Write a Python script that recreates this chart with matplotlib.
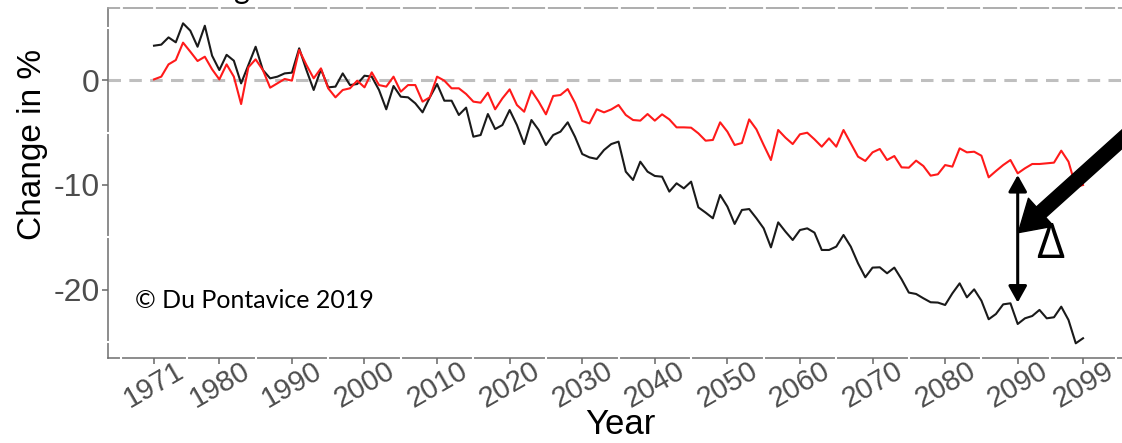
import numpy as np
import matplotlib.pyplot as plt

plt.rcParams['font.family'] = ['Liberation Sans', 'DejaVu Sans']
plt.rcParams['lines.scale_dashes'] = False

# yearly change in % relative to the reference period
years = np.arange(1971, 2100)

change_black = [
    3.27, 3.37, 4.06, 3.59, 5.40, 4.70, 3.17, 5.17, 2.32, 0.95,
    2.40, 1.84, -0.32, 1.43, 3.17, 0.95, 0.16, 0.32, 0.63, 0.70,
    3.02, 0.95, -0.95, 1.02, -0.70, -0.63, 0.63, -0.48, -0.38, 0.41,
    0.32, -0.95, -2.79, -0.57, -1.59, -1.65, -2.22, -3.08, -1.65, -0.38,
    -1.97, -1.97, -3.33, -2.63, -5.40, -5.24, -3.24, -4.67, -4.29, -2.86,
    -4.29, -6.10, -3.81, -4.76, -6.19, -5.24, -4.92, -4.03, -5.40, -7.05,
    -7.37, -7.52, -6.67, -6.10, -5.87, -8.73, -9.52, -7.78, -8.73, -9.14,
    -9.21, -10.63, -9.84, -10.32, -9.68, -12.13, -12.63, -13.17, -10.95, -12.06,
    -13.71, -12.38, -12.29, -13.17, -14.13, -15.94, -13.56, -14.44, -15.24, -14.29,
    -14.13, -14.54, -16.19, -16.19, -15.87, -14.76, -15.87, -17.46, -18.79, -17.87,
    -17.84, -18.41, -17.87, -18.98, -20.25, -20.38, -20.79, -21.17, -21.20, -21.43,
    -20.32, -19.37, -20.70, -19.94, -21.02, -22.79, -22.29, -21.37, -21.27, -23.24,
    -22.70, -22.48, -21.90, -22.70, -22.60, -21.59, -22.86, -25.08, -24.60,
]

change_red = [
    0.06, 0.32, 1.49, 1.90, 3.56, 2.70, 1.81, 2.22, 1.02, 0.06,
    1.49, 0.32, -2.29, 1.21, 1.97, 0.95, -0.73, -0.32, 0.10, -0.06,
    2.86, 1.43, 0.16, 1.11, -0.79, -1.65, -0.95, -0.79, -0.06, -0.70,
    0.73, -0.48, -0.63, 0.32, -1.11, -0.48, -0.48, -2.06, -1.65, 0.32,
    -0.06, -0.79, -0.79, -1.33, -2.06, -2.16, -1.21, -2.79, -1.75, -0.89,
    -2.38, -3.02, -1.02, -2.06, -3.27, -1.52, -1.43, -0.86, -2.16, -3.90,
    -4.13, -2.79, -3.08, -2.80, -2.38, -3.33, -3.81, -3.87, -3.24, -3.87,
    -3.27, -3.75, -4.51, -4.51, -4.54, -5.08, -5.78, -5.71, -4.03, -4.92,
    -6.19, -6.00, -3.75, -4.70, -6.19, -7.62, -4.76, -5.49, -6.10, -5.17,
    -5.02, -5.65, -6.35, -5.56, -6.35, -4.76, -6.03, -7.30, -7.71, -6.89,
    -6.57, -7.62, -7.24, -8.32, -8.35, -7.68, -8.19, -9.11, -8.98, -8.10,
    -8.25, -6.51, -6.89, -6.83, -7.21, -9.27, -8.67, -8.10, -7.62, -8.89,
    -8.41, -8.00, -8.00, -7.94, -7.87, -6.73, -7.78, -10.16, -10.00,
]

x_breaks = [1971, 1980, 1990, 2000, 2010, 2020, 2030, 2040, 2050,
            2060, 2070, 2080, 2090, 2099]
x_minor = [1966.5, 1975.5, 1985, 1995, 2005, 2015, 2025, 2035, 2045,
           2055, 2065, 2075, 2085, 2094.5, 2103.5]
y_breaks = [0, -10, -20]
y_minor = [5, -5, -15, -25]

# gap between the two scenarios marked at 2090
delta_year = 2090
delta_top = -9.05
delta_bottom = -21.2

xlim = (1964.66, 2104.37)
ylim = (-26.48, 6.86)

fig = plt.figure(figsize=(11.22, 4.43), dpi=100)
ax = fig.add_axes([108 / 1122, 85 / 443, 1014 / 1122, 350 / 443])

ax.axhline(0, color='#bfbfbf', lw=2.2, dashes=(9, 6), zorder=1)
ax.plot(years, change_black, color='#1a1a1a', lw=1.5, zorder=3)
ax.plot(years, change_red, color='#ff1a1a', lw=1.5, zorder=3)

ax.set_xlim(*xlim)
ax.set_ylim(*ylim)

ax.set_xticks(x_breaks)
ax.set_xticklabels([str(y) for y in x_breaks], rotation=30, ha='center',
                   fontsize=21, color='#4d4d4d')
ax.set_yticks(y_breaks)
ax.set_yticklabels([str(v) for v in y_breaks], fontsize=23, color='#4d4d4d')
ax.tick_params(axis='x', length=4, width=1.1, color='#666666', pad=-5)
ax.tick_params(axis='y', length=4, width=1.1, color='#666666', pad=2)

for side in ['left', 'bottom']:
    ax.spines[side].set_color('#6e6e6e')
    ax.spines[side].set_linewidth(1.1)
ax.spines['top'].set_color('#a0a0a0')
ax.spines['top'].set_linewidth(1.2)
ax.spines['right'].set_visible(False)

# grid positions show as small breaks in the panel border
for b in x_breaks + x_minor:
    ax.plot([b, b], [ylim[1] - 0.25, ylim[1] + 0.25], color='white', lw=2,
            clip_on=False, zorder=4)
for b in x_minor:
    ax.plot([b, b], [ylim[0] - 0.25, ylim[0] + 0.25], color='white', lw=1.5,
            clip_on=False, zorder=4)
for b in y_minor:
    ax.plot([xlim[0] - 0.3, xlim[0] + 0.3], [b, b], color='white', lw=1.5,
            clip_on=False, zorder=4)

ax.set_ylabel('Change in %', fontsize=24)
ax.yaxis.set_label_coords(-0.059, 0.609)
ax.set_xlabel('Year', fontsize=25)
ax.xaxis.set_label_coords(0.505, -0.142)

ax.text(0.0266, 0.165, '\u00a9 Du Pontavice 2019', transform=ax.transAxes,
        fontsize=18, family=['Lato', 'DejaVu Sans'], ha='left', va='center')

# double arrow showing the difference
ax.annotate('', xy=(delta_year, delta_top), xytext=(delta_year, delta_bottom),
            arrowprops=dict(arrowstyle='<|-|>,head_length=0.5,head_width=0.28',
                            mutation_scale=20, lw=2.2, color='black',
                            shrinkA=0, shrinkB=0))
ax.text(0.929, 0.322, '\u0394', transform=ax.transAxes, fontsize=35,
        family=['Open Sans', 'DejaVu Sans'], ha='center', va='center')

# thick pointer coming in from the right
ax.annotate('', xy=(2090.08, -14.54), xytext=(2106.85, -4.1),
            arrowprops=dict(facecolor='black', edgecolor='black', width=10,
                            headwidth=27, headlength=22, shrink=0),
            annotation_clip=False)

# cut-off title above the panel
fig.text(242 / 1122, 1.002, 'g', fontsize=22, family=['Lato', 'DejaVu Sans'],
         ha='center', va='baseline')

fig.savefig('out.png', dpi=100)
